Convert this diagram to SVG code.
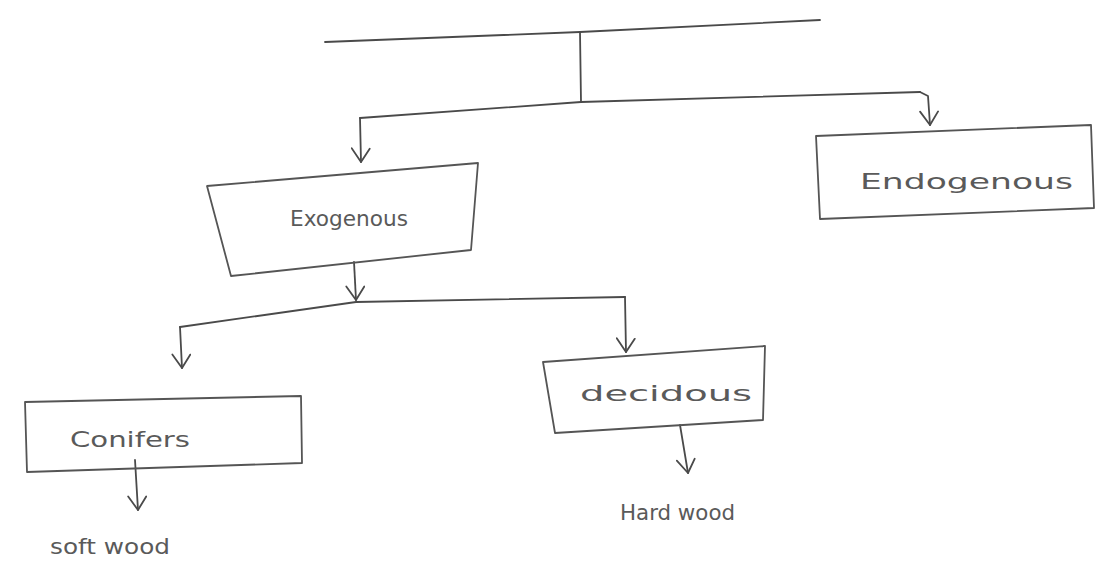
<svg xmlns="http://www.w3.org/2000/svg" width="1105" height="582" viewBox="0 0 1105 582">
  <defs>
    <style>
      .ln { fill: none; stroke: #4a4a4a; stroke-width: 1.8; stroke-linecap: round; stroke-linejoin: round; }
      .bx { fill: none; stroke: #555; stroke-width: 1.8; stroke-linecap: round; stroke-linejoin: round; }
      .lb { font-family: "DejaVu Sans", "Liberation Sans", sans-serif; fill: #5a5a5a; font-size: 21px; }
    </style>
    <!-- open V arrowhead, tip at the line end -->
    <marker id="vee" viewBox="0 0 20 20" refX="18" refY="10" markerWidth="20" markerHeight="20" markerUnits="userSpaceOnUse" orient="auto">
      <path d="M5 1 L18 10 L4 19" fill="none" stroke="#4a4a4a" stroke-width="1.8" stroke-linecap="round" stroke-linejoin="round"/>
    </marker>
  </defs>
  <rect width="1105" height="582" fill="#ffffff"/>

  <g id="connectors">
    <!-- top bar and trunk -->
    <path class="ln" d="M325 42 L580 32 L820 20"/>
    <path class="ln" d="M580 32 L581 102"/>
    <!-- split to the two classes -->
    <path class="ln" d="M360 118 L581 102 L920 92"/>
    <path class="ln" d="M360 118 L361 162" marker-end="url(#vee)"/>
    <path class="ln" d="M920 92 L928 96 L930 125" marker-end="url(#vee)"/>
    <!-- exogenous split -->
    <path class="ln" d="M354 262 L356 300" marker-end="url(#vee)"/>
    <path class="ln" d="M180 327 L356 302 L625 297"/>
    <path class="ln" d="M180 327 L182 368" marker-end="url(#vee)"/>
    <path class="ln" d="M625 297 L626 352" marker-end="url(#vee)"/>
    <!-- leaves -->
    <path class="ln" d="M135 460 L138 510" marker-end="url(#vee)"/>
    <path class="ln" d="M680 425 L688 473" marker-end="url(#vee)"/>
  </g>

  <g id="node-exogenous">
    <path class="bx" d="M207 186 L478 163 L471 250 L231 276 Z"/>
    <text class="lb" x="290" y="226" font-size="24" textLength="118" lengthAdjust="spacingAndGlyphs">Exogenous</text>
  </g>

  <g id="node-endogenous">
    <path class="bx" d="M816 136 L1091 125 L1094 208 L820 219 Z"/>
    <text class="lb" x="860" y="189" font-size="31" textLength="213" lengthAdjust="spacingAndGlyphs">Endogenous</text>
  </g>

  <g id="node-conifers">
    <path class="bx" d="M25 402 L301 396 L302 463 L27 472 Z"/>
    <text class="lb" x="70" y="447" font-size="24" textLength="120" lengthAdjust="spacingAndGlyphs">Conifers</text>
  </g>

  <g id="node-decidous">
    <path class="bx" d="M543 362 L765 346 L763 420 L555 433 Z"/>
    <text class="lb" x="580" y="401" font-size="28" textLength="172" lengthAdjust="spacingAndGlyphs">decidous</text>
  </g>

  <g id="node-softwood">
    <text class="lb" x="50" y="554" font-size="23" textLength="120" lengthAdjust="spacingAndGlyphs">soft wood</text>
  </g>

  <g id="node-hardwood">
    <text class="lb" x="620" y="520" font-size="22" textLength="115" lengthAdjust="spacingAndGlyphs">Hard wood</text>
  </g>
</svg>
